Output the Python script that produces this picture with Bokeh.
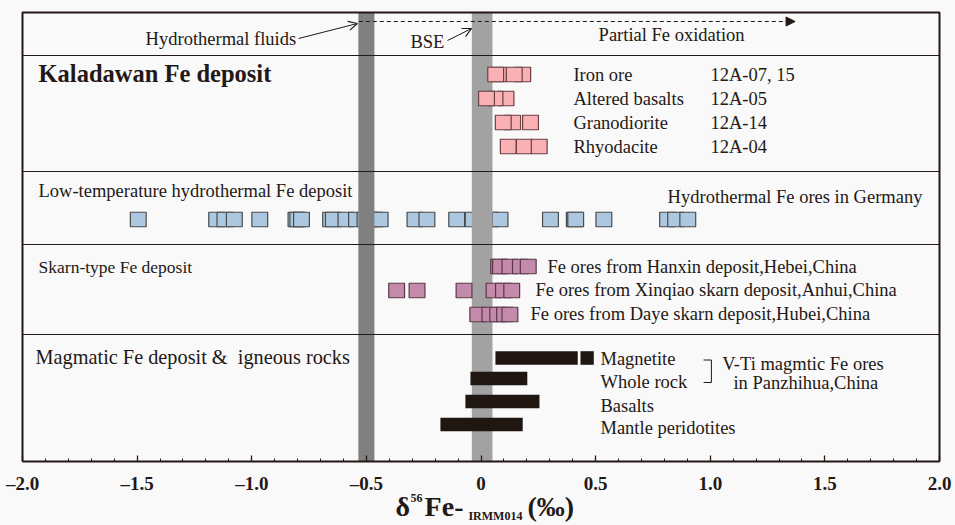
from bokeh.plotting import figure
from bokeh.models import Range1d, FixedTicker, Arrow, OpenHead, NormalHead
from bokeh.core.properties import value
from bokeh.embed import file_html
from bokeh.resources import INLINE

# ---------------- data (delta56Fe, per mil) ----------------
# Kaladawan Fe deposit
kal_labels = ["Iron ore", "Altered basalts", "Granodiorite", "Rhyodacite"]
kal_ids = ["12A-07, 15", "12A-05", "12A-14", "12A-04"]
kal_iron_ore = [0.077, 0.064, 0.182, 0.145]
kal_altered_basalts = [0.109, 0.061, 0.024]
kal_granodiorite = [0.138, 0.097, 0.216]
kal_rhyodacite = [0.119, 0.189, 0.254]

# Low-temperature hydrothermal Fe deposit (Germany)
hydro_germany = [-1.495, -1.153, -1.117, -1.076, -0.965, -0.807, -0.799, -0.783,
                 -0.656, -0.644, -0.589, -0.543, -0.506, -0.484, -0.462, -0.440,
                 -0.288, -0.236, -0.106, -0.034, 0.006, 0.042, 0.083,
                 0.303, 0.407, 0.413, 0.536, 0.814, 0.849, 0.902]

# Skarn-type Fe deposits
skarn_labels = ["Fe ores from Hanxin deposit,Hebei,China",
                "Fe ores from Xinqiao skarn deposit,Anhui,China",
                "Fe ores from Daye skarn deposit,Hubei,China"]
skarn_hanxin = [0.077, 0.085, 0.126, 0.172, 0.206]
skarn_xinqiao = [-0.368, -0.279, -0.074, 0.057, 0.098, 0.134]
skarn_daye = [-0.014, 0.039, 0.073, 0.103, 0.126]

# Magmatic Fe deposit & igneous rocks (ranges)
mag_labels = ["Magnetite", "Whole rock", "Basalts", "Mantle peridotites"]
mag_low = [0.063, -0.046, -0.068, -0.177]
mag_high = [0.422, 0.202, 0.255, 0.182]
magnetite_extra_low = [0.434]
magnetite_extra_high = [0.492]

# reference bands
hydrothermal_fluids_band = [-0.535, -0.465]
bse_band = [-0.040, 0.050]

# axis ticks
tick_values = [-2.0, -1.5, -1.0, -0.5, 0.0, 0.5, 1.0, 1.5, 2.0]
tick_labels = ["\u20132.0", "\u20131.5", "\u20131.0", "\u20130.5", "0", "0.5", "1.0", "1.5", "2.0"]
minor_tick_values = [round(-2.0 + 0.1 * i, 1) for i in range(41)]

# ---------------- layout / style ----------------
FONT = "Liberation Serif"
TXT = "#231815"
FS = "18.5px"
BG = "#f9f9f9"
BOX_W = 0.069
BOX_H = 14.5
X_MIN, X_MAX = -2.0, 2.0
PX_PER_UNIT = 229.25
LEFT_PX, RIGHT_PX = 22, 16            # page margins left / right of the plotted panel
Y_TOP, Y_AXIS, Y_PAGE = 12, 461, 525  # vertical layout units == page pixel rows

# the frame covers the whole page; the panel box and axis are drawn inside it
p = figure(width=955, height=525,
           x_range=Range1d(X_MIN - LEFT_PX / PX_PER_UNIT, X_MAX + RIGHT_PX / PX_PER_UNIT),
           y_range=Range1d(Y_PAGE, 0),
           output_backend="svg", toolbar_location=None, y_axis_location=None, title=None,
           min_border_left=0, min_border_right=0, min_border_top=0, min_border_bottom=0,
           background_fill_color=BG, border_fill_color=BG, outline_line_color=None)
p.xgrid.visible = False
p.ygrid.visible = False

ax = p.xaxis[0]
ax.fixed_location = Y_AXIS
ax.bounds = (X_MIN, X_MAX)
ax.ticker = FixedTicker(ticks=tick_values, minor_ticks=minor_tick_values)
ax.major_label_overrides = {v: l for v, l in zip(tick_values, tick_labels)}
ax.axis_line_width = 2
ax.axis_line_color = TXT
ax.major_tick_in = 6
ax.major_tick_out = 0
ax.minor_tick_in = 3
ax.minor_tick_out = 0
ax.major_tick_line_color = TXT
ax.minor_tick_line_color = TXT
ax.major_tick_line_width = 1.3
ax.major_label_text_font = FONT
ax.major_label_text_font_style = "bold"
ax.major_label_text_font_size = "19px"
ax.major_label_text_color = TXT
ax.major_label_standoff = 11


def boxes(vals, y, fill, line):
    p.rect(x=vals, y=[y] * len(vals), width=BOX_W, height=BOX_H,
           fill_color=fill, line_color=line, line_width=1.2)


# hydrothermal row drawn beneath the reference bands
boxes(hydro_germany, 219, "#abc8e0", "#4a4a4a")

# reference bands
p.quad(left=[hydrothermal_fluids_band[0]], right=[hydrothermal_fluids_band[1]],
       top=[Y_TOP], bottom=[Y_AXIS], fill_color="#808080", line_color=None)
p.quad(left=[bse_band[0]], right=[bse_band[1]],
       top=[Y_TOP], bottom=[Y_AXIS], fill_color="#a2a2a2", line_color=None)

# Kaladawan
PINK, PINK_L = "#f9b1b5", "#6a4040"
for vals, y in zip([kal_iron_ore, kal_altered_basalts, kal_granodiorite, kal_rhyodacite],
                   [74, 98, 122, 146]):
    boxes(vals, y, PINK, PINK_L)

# Skarn
PURP, PURP_L = "#c48aab", "#5a3848"
for vals, y in zip([skarn_hanxin, skarn_xinqiao, skarn_daye], [266, 290, 314]):
    boxes(vals, y, PURP, PURP_L)

# Magmatic bars
mag_y = [357.5, 378, 401, 424]
p.quad(left=mag_low, right=mag_high, top=[y - 6.8 for y in mag_y],
       bottom=[y + 6.8 for y in mag_y], fill_color="#1f1612", line_color=None)
p.quad(left=magnetite_extra_low, right=magnetite_extra_high, top=[mag_y[0] - 6.8],
       bottom=[mag_y[0] + 6.8], fill_color="#1f1612", line_color=None)

# panel frame and separators
p.line(x=[X_MIN, X_MIN, X_MAX, X_MAX], y=[Y_AXIS, Y_TOP, Y_TOP, Y_AXIS],
       line_color=TXT, line_width=2)
p.segment(x0=[X_MIN] * 4, x1=[X_MAX] * 4, y0=[55, 171, 244, 334], y1=[55, 171, 244, 334],
          line_color=TXT, line_width=1.2)


def txt(x, y, t, size=FS, style="normal", align="left"):
    p.text(x=x, y=y, text=t, text_font=value(FONT), text_font_size=value(size),
           text_font_style=style, text_color=TXT, text_baseline="middle", text_align=align)


# top panel
txt([-1.463], [38], ["Hydrothermal fluids"])
txt([-0.308], [41], ["BSE"])
txt([0.513], [34], ["Partial Fe oxidation"])
p.add_layout(Arrow(end=NormalHead(size=9, fill_color=TXT, line_color=TXT),
                   x_start=-0.533, y_start=21, x_end=1.37, y_end=21,
                   line_dash="4 3", line_width=1, line_color=TXT))
p.add_layout(Arrow(end=OpenHead(size=9, line_color=TXT, line_width=1.2),
                   x_start=-0.796, y_start=38, x_end=-0.539, y_end=23,
                   line_width=1, line_color=TXT))
p.add_layout(Arrow(end=OpenHead(size=9, line_color=TXT, line_width=1.2),
                   x_start=-0.146, y_start=40, x_end=-0.041, y_end=28,
                   line_width=1, line_color=TXT))

# Kaladawan panel
txt([-1.930], [73], ["Kaladawan Fe deposit"], size="24.5px", style="bold")
txt([0.403] * 4, [74, 98, 122, 146], kal_labels)
txt([1.001] * 4, [74, 98, 122, 146], kal_ids)

# hydrothermal panel
txt([-1.930], [190], ["Low-temperature hydrothermal Fe deposit"])
txt([0.814], [196], ["Hydrothermal Fe ores in Germany"])

# skarn panel
txt([-1.930], [266], ["Skarn-type Fe deposit"], size="17.5px")
txt([0.290, 0.238, 0.216], [266, 289, 313], skarn_labels)

# magmatic panel
txt([-1.943], [356], ["Magmatic Fe deposit &\u00a0 igneous rocks"], size="20.3px")
txt([0.521] * 4, [358, 381, 405, 427], mag_labels)
txt([1.052], [363], ["V-Ti magmtic Fe ores"])
txt([1.101], [382], ["in Panzhihua,China"])
p.line(x=[0.971, 1.005, 1.005, 0.971], y=[359.5, 359.5, 382, 382], line_color=TXT, line_width=1)

# axis title (composed with super/subscripts)
txt([-0.373], [506], ["\u03b4"], size="28px", style="bold")
txt([-0.308], [497], ["56"], size="12px", style="bold")
txt([-0.246], [506], ["Fe-"], size="28px", style="bold")
txt([-0.055], [515], ["IRMM014"], size="12px", style="bold")
txt([0.203], [506], ["(\u2030)"], size="28px", style="bold")

open("out.html", "w").write(file_html(p, INLINE))
